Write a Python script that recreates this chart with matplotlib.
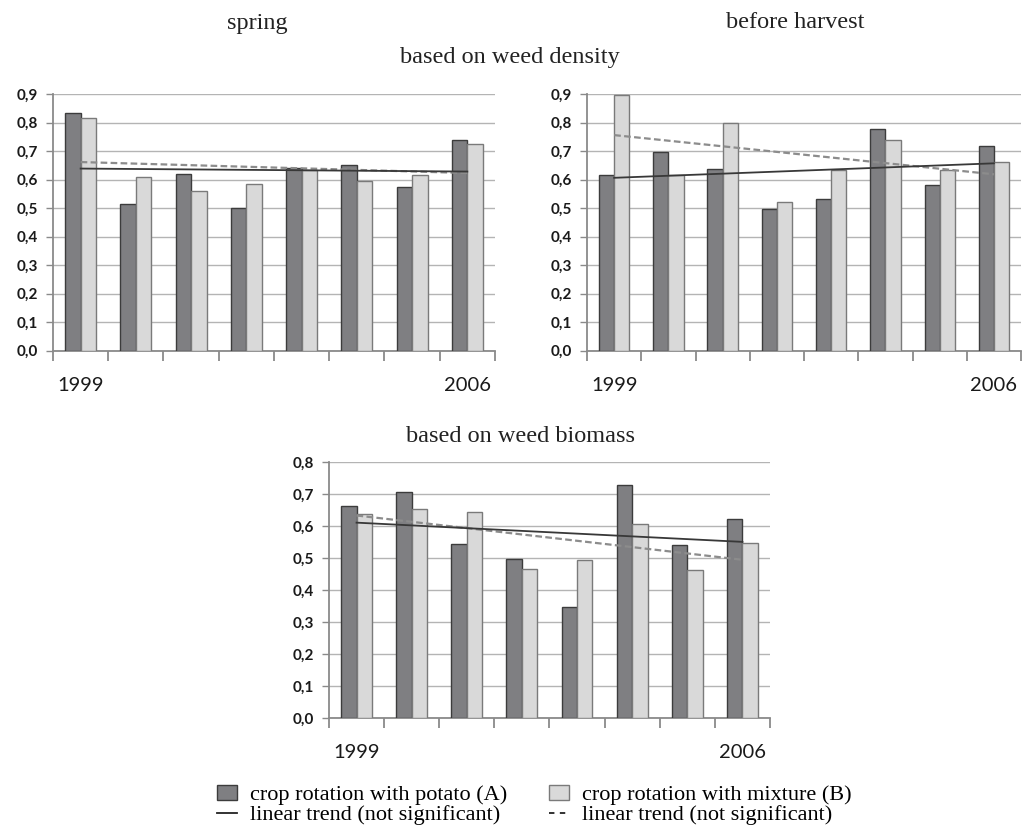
import numpy as np
import matplotlib
matplotlib.use("Agg")
import matplotlib.pyplot as plt
from matplotlib.patches import Patch
from matplotlib.lines import Line2D
from matplotlib.ticker import FuncFormatter, MultipleLocator

# ======================
# data
# ======================
years = [1999, 2000, 2001, 2002, 2003, 2004, 2005, 2006]
year_labels = ["1999", "2006"]

spring_a = [0.834, 0.513, 0.618, 0.499, 0.639, 0.651, 0.573, 0.739]
spring_b = [0.817, 0.608, 0.561, 0.583, 0.633, 0.596, 0.615, 0.724]

harvest_a = [0.615, 0.695, 0.638, 0.495, 0.532, 0.778, 0.580, 0.719]
harvest_b = [0.898, 0.615, 0.799, 0.522, 0.632, 0.739, 0.632, 0.660]

biomass_a = [0.662, 0.708, 0.544, 0.496, 0.346, 0.727, 0.540, 0.622]
biomass_b = [0.637, 0.654, 0.643, 0.466, 0.493, 0.607, 0.464, 0.547]

label_a = "crop rotation with potato (A)"
label_b = "crop rotation with mixture (B)"
label_trend = "linear trend (not significant)"

# ======================
# style
# ======================
DARK = "#7f7f82"
DARK_EDGE = "#3c3c3c"
LIGHT = "#d9d9d9"
LIGHT_EDGE = "#7a7a7a"
GRID = "#b4b4b4"
SERIF = "Liberation Serif"
TICKFONT = "Lato"

fig = plt.figure(figsize=(10.29, 8.33), dpi=100)


def draw_panel(ax, vals_a, vals_b, ymax):
    x = np.arange(len(years))
    w = 0.28
    ax.bar(x - w / 2, vals_a, w, color=DARK, edgecolor=DARK_EDGE, linewidth=1.0, zorder=3)
    ax.bar(x + w / 2, vals_b, w, color=LIGHT, edgecolor=LIGHT_EDGE, linewidth=1.0, zorder=3)

    # linear trends
    ka, ba = np.polyfit(x, vals_a, 1)
    kb, bb = np.polyfit(x, vals_b, 1)
    xs = np.array([x[0], x[-1]])
    ax.plot(xs, kb * xs + bb, color="#8c8c8c", lw=1.6, ls=(0, (3, 1.5)), zorder=4)
    ax.plot(xs, ka * xs + ba, color="#383838", lw=1.3, zorder=5)

    ax.set_xlim(-0.5, len(years) - 0.5)
    ax.set_ylim(0, ymax)
    ax.yaxis.set_major_locator(MultipleLocator(0.1))
    ax.yaxis.set_major_formatter(FuncFormatter(lambda v, p: f"{v:.1f}".replace(".", ",")))
    ax.grid(axis="y", color=GRID, lw=1.0, zorder=0)
    ax.set_axisbelow(True)

    for s in ["top", "right"]:
        ax.spines[s].set_visible(False)
    for s in ["left", "bottom"]:
        ax.spines[s].set_color("#8a8a8a")
        ax.spines[s].set_linewidth(1.3)

    # category boundary ticks, years only at both ends
    ax.set_xticks(np.arange(len(years) + 1) - 0.5)
    ax.set_xticklabels([])
    ax.tick_params(axis="x", which="major", direction="out", length=7, width=1.3, color="#8a8a8a")
    ax.set_xticks([x[0], x[-1]], minor=True)
    ax.set_xticklabels(year_labels, minor=True, fontfamily=TICKFONT, fontsize=14.5, color="#1a1a1a")
    ax.tick_params(axis="x", which="minor", length=0, pad=19)
    ax.tick_params(axis="y", direction="out", length=5, width=1.0, color="#8a8a8a",
                   labelsize=11, pad=6, labelcolor="#1a1a1a")
    for t in ax.get_yticklabels():
        t.set_fontfamily(TICKFONT)
        t.set_fontweight("bold")


ax1 = fig.add_axes([0.0515, 0.5792, 0.4295, 0.3079])
draw_panel(ax1, spring_a, spring_b, 0.9)

ax2 = fig.add_axes([0.5705, 0.5792, 0.4218, 0.3079])
draw_panel(ax2, harvest_a, harvest_b, 0.9)

ax3 = fig.add_axes([0.3197, 0.138, 0.4286, 0.3073])
draw_panel(ax3, biomass_a, biomass_b, 0.8)

# ======================
# titles
# ======================
fig.text(257 / 1029, 1 - 23 / 833, "spring", ha="center", va="center",
         fontfamily=SERIF, fontsize=17.5, color="#222222")
fig.text(795 / 1029, 1 - 23 / 833, "before harvest", ha="center", va="center",
         fontfamily=SERIF, fontsize=17.5, color="#222222")
fig.text(510 / 1029, 1 - 58 / 833, "based on weed density", ha="center", va="center",
         fontfamily=SERIF, fontsize=17.5, color="#222222")
fig.text(520 / 1029, 1 - 437 / 833, "based on weed biomass", ha="center", va="center",
         fontfamily=SERIF, fontsize=17.5, color="#222222")

# ======================
# legend
# ======================
handles = [
    Patch(facecolor=DARK, edgecolor=DARK_EDGE, linewidth=1.0),
    Line2D([0], [0], color="#222222", lw=1.3),
    Patch(facecolor=LIGHT, edgecolor=LIGHT_EDGE, linewidth=1.0),
    Line2D([0], [0], color="#222222", lw=1.3, ls=(0, (3, 3))),
]
labels = [label_a, label_trend, label_b, label_trend]
fig.legend(handles, labels, loc="upper left", bbox_to_anchor=(217 / 1029, 1 - 785 / 833),
           ncol=2, frameon=False, borderpad=0, borderaxespad=0,
           handlelength=0.9, handleheight=0.65, handletextpad=0.6,
           columnspacing=1.85, labelspacing=0.0,
           prop={"family": SERIF, "size": 16.0})

fig.savefig("out.png", dpi=100)
